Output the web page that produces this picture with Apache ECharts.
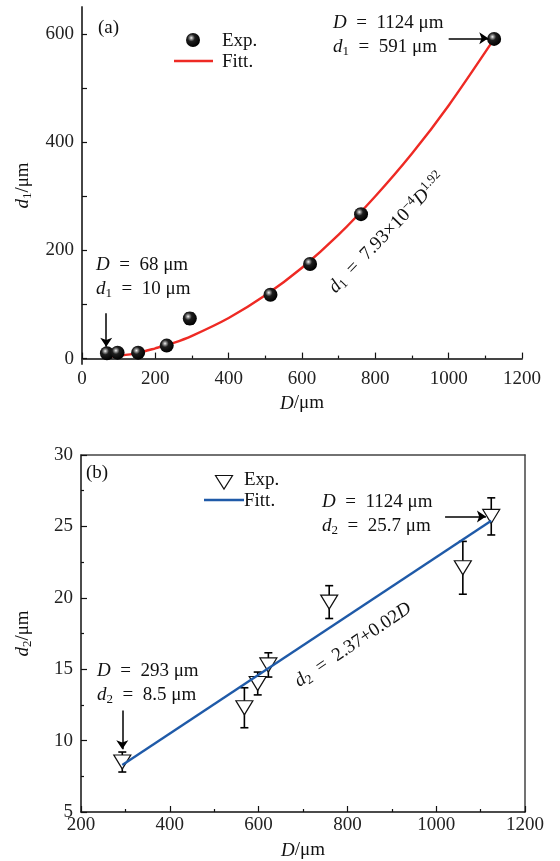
<!DOCTYPE html>
<html>
<head>
<meta charset="utf-8">
<script src="https://cdn.jsdelivr.net/npm/echarts@6/dist/echarts.min.js"></script>
<style>
html,body{margin:0;padding:0;background:#fff;}
#chart{width:560px;height:861px;}
</style>
</head>
<body>
<div id="chart"></div>
<script>
// ---------- data ----------
// panel (a)
const expD1 = [68, 97, 153, 231, 294, 514, 622, 761, 1124];
const expV1 = [10, 11, 11, 24, 74, 118, 175, 267, 591];
const err1  = [4, 4, 4, 5, 10, 5, 5, 9, 5];
const fitD1 = [68, 100, 150, 200, 250, 300, 400, 500, 600, 700, 800, 900, 1000, 1124];
const fitV1 = [3, 5, 10, 19, 29, 42, 75, 117, 168, 229, 300, 379, 468, 591];
const yTicks1 = [0, 200, 400, 600];
const yMinor1 = [0, 100, 200, 300, 400, 500, 600];
// panel (b)
const expD2 = [293, 568, 598, 622, 759, 1060, 1124];
const expV2 = [8.5, 12.3, 14.0, 15.3, 19.7, 22.1, 25.7];
const err2  = [0.7, 1.4, 0.8, 0.85, 1.15, 1.85, 1.3];
const fitD2 = [293, 1124];
const fitV2 = [8.3, 25.4];

// ---------- helpers ----------
const FONT = "'Liberation Serif', 'DejaVu Serif', serif";
const FS = 19;
const SP = '\u2002';
const zip = (a, b) => a.map((v, i) => [v, b[i]]);
const zip3 = (a, b, c) => a.map((v, i) => [v, b[i], c[i]]);
const rich = {
  i: {fontStyle: 'italic', fontFamily: FONT, fontSize: FS, color: '#111'},
  s: {fontStyle: 'normal', fontFamily: FONT, fontSize: 13, color: '#111', padding: [9, 0, 0, 0]},
  p: {fontStyle: 'normal', fontFamily: FONT, fontSize: 13, color: '#111', padding: [0, 0, 10, 0]},
  n: {fontFamily: FONT, fontSize: FS, color: '#111'}
};
const sphere = {
  type: 'radial', x: 0.38, y: 0.35, r: 0.65,
  colorStops: [
    {offset: 0, color: '#f4f4f4'},
    {offset: 0.18, color: '#8a8a8a'},
    {offset: 0.4, color: '#1e1e1e'},
    {offset: 1, color: '#000'}
  ]
};
function errRender(cap) {
  return function (params, api) {
    const x = api.value(0), y = api.value(1), e = api.value(2);
    const t = api.coord([x, y + e]);
    const b = api.coord([x, y - e]);
    const st = {stroke: '#000', lineWidth: 1.6};
    return {
      type: 'group',
      children: [
        {type: 'line', shape: {x1: t[0], y1: t[1], x2: b[0], y2: b[1]}, style: st},
        {type: 'line', shape: {x1: t[0] - cap, y1: t[1], x2: t[0] + cap, y2: t[1]}, style: st},
        {type: 'line', shape: {x1: b[0] - cap, y1: b[1], x2: b[0] + cap, y2: b[1]}, style: st}
      ]
    };
  };
}
const labelStyle = {fontFamily: FONT, fontSize: FS, color: '#222', formatter: v => String(v)};
function frameAxis(pos, gi, min, max) {
  return {
    type: 'value', gridIndex: gi, position: pos, min: min, max: max,
    axisLine: {show: true, lineStyle: {color: '#444', width: 1.5}},
    axisTick: {show: false}, axisLabel: {show: false}, splitLine: {show: false}
  };
}
const arrowLine = {
  silent: true, symbol: ['none', 'arrow'], symbolSize: 9,
  label: {show: false},
  lineStyle: {color: '#000', width: 1.5, type: 'solid'},
  emphasis: {disabled: true}
};
const txt = (x, y, text, extra) => ({
  type: 'text', x: x, y: y,
  style: Object.assign({text: text, rich: rich, font: FS + 'px ' + FONT, fill: '#111', verticalAlign: 'middle'}, extra || {})
});

const chart = echarts.init(document.getElementById('chart'), null, {renderer: 'canvas'});
const nameStyle = {fontFamily: FONT, fontSize: FS, color: '#111', rich: rich};
const option = {
  animation: false,
  backgroundColor: '#fff',
  grid: [
    {left: 82, top: 7, width: 440, height: 357},
    {left: 81, top: 455, width: 444, height: 358}
  ],
  xAxis: [
    {
      type: 'value', gridIndex: 0, min: 0, max: 1200, interval: 200,
      name: '{i|D}/μm', nameLocation: 'middle', nameGap: 30, nameTextStyle: nameStyle,
      axisLine: {lineStyle: {color: '#111', width: 1.5}},
      axisTick: {inside: true, length: 6, lineStyle: {color: '#111', width: 1.2}},
      minorTick: {show: true, splitNumber: 2, length: 3, lineStyle: {color: '#111', width: 1.2}},
      axisLabel: Object.assign({margin: 6}, labelStyle),
      splitLine: {show: false}
    },
    frameAxis('top', 0, 0, 1200),
    {
      type: 'value', gridIndex: 1, min: 200, max: 1200, interval: 200,
      name: '{i|D}/μm', nameLocation: 'middle', nameGap: 29, nameTextStyle: nameStyle,
      axisLine: {lineStyle: {color: '#111', width: 1.5}},
      axisTick: {inside: true, length: 6, lineStyle: {color: '#111', width: 1.2}},
      minorTick: {show: true, splitNumber: 2, length: 3, lineStyle: {color: '#111', width: 1.2}},
      axisLabel: Object.assign({margin: 4}, labelStyle),
      splitLine: {show: false}
    },
    frameAxis('top', 1, 200, 1200)
  ],
  yAxis: [
    {
      type: 'value', gridIndex: 0, min: -10, max: 650,
      name: '{i|d}{s|1}/μm', nameLocation: 'middle', nameGap: 48, nameTextStyle: nameStyle,
      axisLine: {lineStyle: {color: '#111', width: 1.5}},
      axisTick: {inside: true, length: 5, customValues: yMinor1, lineStyle: {color: '#111', width: 1.2}},
      axisLabel: Object.assign({margin: 8, customValues: yTicks1}, labelStyle),
      splitLine: {show: false}
    },
    frameAxis('right', 0, -10, 650),
    {
      type: 'value', gridIndex: 1, min: 5, max: 30, interval: 5,
      name: '{i|d}{s|2}/μm', nameLocation: 'middle', nameGap: 47, nameTextStyle: nameStyle,
      axisLine: {lineStyle: {color: '#111', width: 1.5}},
      axisTick: {inside: true, length: 6, lineStyle: {color: '#111', width: 1.2}},
      minorTick: {show: true, splitNumber: 2, length: 3, lineStyle: {color: '#111', width: 1.2}},
      axisLabel: Object.assign({margin: 8}, labelStyle),
      splitLine: {show: false}
    },
    frameAxis('right', 1, 5, 30)
  ],
  series: [
    {
      name: 'err1', type: 'custom', xAxisIndex: 0, yAxisIndex: 0,
      renderItem: errRender(4), data: zip3(expD1, expV1, err1), z: 1, silent: true
    },
    {
      name: 'Fitt.', type: 'line', xAxisIndex: 0, yAxisIndex: 0,
      data: zip(fitD1, fitV1), smooth: 0.3, symbol: 'none',
      lineStyle: {color: '#ee2a24', width: 2.4}, itemStyle: {color: '#ee2a24'}, z: 2,
      markLine: Object.assign({
        data: [
          [{coord: [1000, 592]}, {coord: [1108, 592]}],
          [{coord: [66, 84]}, {coord: [66, 22]}]
        ]
      }, arrowLine)
    },
    {
      name: 'Exp.', type: 'scatter', xAxisIndex: 0, yAxisIndex: 0,
      data: zip(expD1, expV1), symbol: 'circle', symbolSize: 14,
      itemStyle: {color: sphere, opacity: 1}, z: 3
    },
    {
      name: 'err2', type: 'custom', xAxisIndex: 2, yAxisIndex: 2,
      renderItem: errRender(4), data: zip3(expD2, expV2, err2), z: 1, silent: true
    },
    {
      name: 'Exp. ', type: 'scatter', xAxisIndex: 2, yAxisIndex: 2,
      data: zip(expD2, expV2), symbol: 'triangle', symbolRotate: 180, symbolSize: [17, 14],
      itemStyle: {color: '#fff', borderColor: '#111', borderWidth: 1.2, opacity: 1}, z: 2
    },
    {
      name: 'Fitt. ', type: 'line', xAxisIndex: 2, yAxisIndex: 2,
      data: zip(fitD2, fitV2), symbol: 'none',
      lineStyle: {color: '#1f5aa8', width: 2.4}, itemStyle: {color: '#1f5aa8'}, z: 3,
      markLine: Object.assign({
        data: [
          [{coord: [1020, 25.7]}, {coord: [1112, 25.7]}],
          [{coord: [293, 12.1]}, {coord: [293, 9.4]}]
        ]
      }, arrowLine)
    }
  ],
  graphic: [
    // panel tags
    txt(98, 28, '(a)'),
    txt(86, 473, '(b)'),
    // legend (a)
    {type: 'circle', shape: {cx: 193, cy: 40, r: 7}, style: {fill: sphere}},
    txt(222, 41, 'Exp.'),
    {type: 'line', shape: {x1: 174, y1: 61, x2: 213, y2: 61}, style: {stroke: '#ee2a24', lineWidth: 2.4}},
    txt(222, 62, 'Fitt.'),
    // legend (b)
    {type: 'polygon', shape: {points: [[215.5, 475.5], [232.5, 475.5], [224, 489]]},
      style: {fill: '#fff', stroke: '#111', lineWidth: 1.2}},
    txt(244, 480, 'Exp.'),
    {type: 'line', shape: {x1: 204, y1: 500, x2: 244, y2: 500}, style: {stroke: '#1f5aa8', lineWidth: 2.4}},
    txt(244, 501, 'Fitt.'),
    // annotations
    txt(333, 35, '{i|D}' + SP + '=' + SP + '1124 μm\n{i|d}{s|1}' + SP + '=' + SP + '591 μm', {lineHeight: 24}),
    txt(96, 277, '{i|D}' + SP + '=' + SP + '68 μm\n{i|d}{s|1}' + SP + '=' + SP + '10 μm', {lineHeight: 24}),
    txt(322, 514, '{i|D}' + SP + '=' + SP + '1124 μm\n{i|d}{s|2}' + SP + '=' + SP + '25.7 μm', {lineHeight: 24}),
    txt(97, 683, '{i|D}' + SP + '=' + SP + '293 μm\n{i|d}{s|2}' + SP + '=' + SP + '8.5 μm', {lineHeight: 24}),
    // rotated fit equations
    {type: 'text', x: 387, y: 233, rotation: 46 * Math.PI / 180, style: {
      text: '{i|d}{s|1}' + SP + '=' + SP + '7.93×10{p|−4}{i|D}{p|1.92}', rich: rich, font: FS + 'px ' + FONT,
      fill: '#111', align: 'center', verticalAlign: 'middle'}},
    {type: 'text', x: 353, y: 645, rotation: 34 * Math.PI / 180, style: {
      text: '{i|d}{s|2}' + SP + '=' + SP + '2.37+0.02{i|D}', rich: rich, font: FS + 'px ' + FONT,
      fill: '#111', align: 'center', verticalAlign: 'middle'}}
  ]
};
chart.setOption(option);
</script>
</body>
</html>
